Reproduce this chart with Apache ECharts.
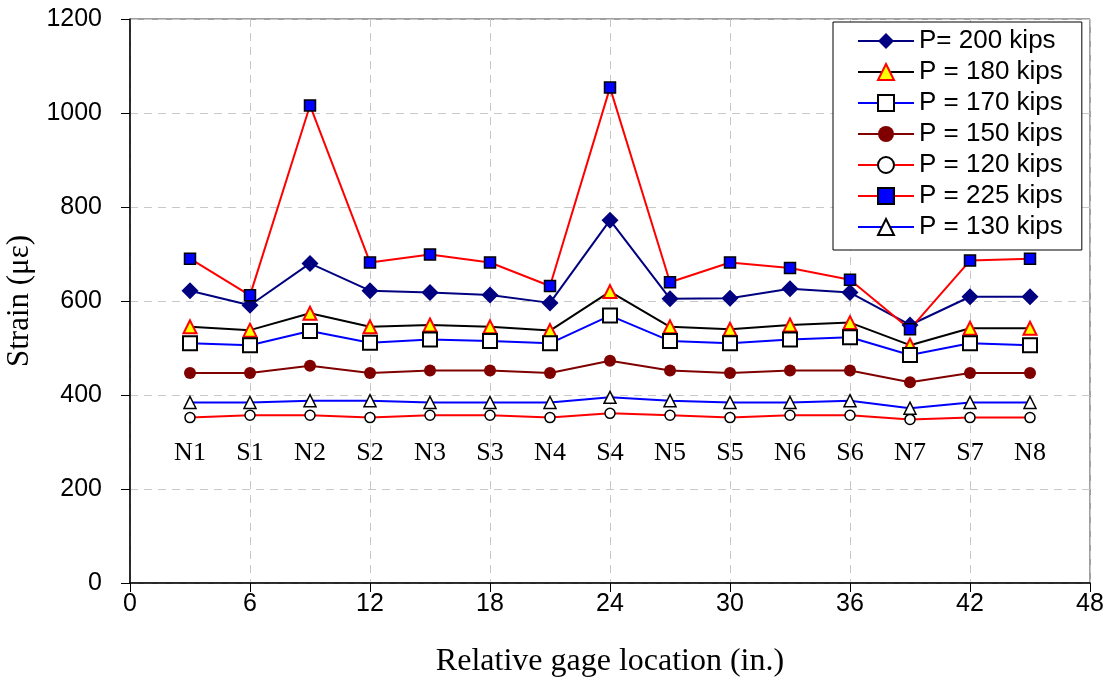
<!DOCTYPE html>
<html>
<head>
<meta charset="utf-8">
<script src="https://cdn.jsdelivr.net/npm/echarts@6/dist/echarts.min.js"></script>
<style>
html,body{margin:0;padding:0;background:#fff;}
#chart{width:1112px;height:686px;}
</style>
</head>
<body>
<div id="chart"></div>
<script>
// gage positions (in.)
const positions = [3, 6, 9, 12, 15, 18, 21, 24, 27, 30, 33, 36, 39, 42, 45];
const gageLabels = ['N1','S1','N2','S2','N3','S3','N4','S4','N5','S5','N6','S6','N7','S7','N8'];
const gageLabelLevel = 277;

const p200 = [622, 591, 680, 622, 618, 613, 596, 772, 605, 606, 626, 618, 549, 609, 609];
const p180 = [545, 538, 574, 545, 549, 545, 537, 620, 545, 540, 549, 554, 506, 542, 542];
const p170 = [510, 506, 536, 511, 518, 515, 510, 569, 515, 510, 518, 523, 485, 510, 506];
const p150 = [447, 447, 462, 447, 452, 452, 447, 473, 452, 447, 452, 452, 427, 447, 447];
const p120 = [352, 357, 357, 352, 357, 357, 352, 361, 357, 352, 357, 357, 348, 352, 352];
const p225 = [690, 612, 1016, 682, 699, 682, 632, 1054, 640, 682, 670, 645, 540, 686, 690];
const p130 = [384, 384, 388, 388, 384, 384, 384, 395, 388, 384, 384, 388, 372, 384, 384];

const seriesNames = ['P= 200 kips','P = 180 kips','P = 170 kips','P = 150 kips','P = 120 kips','P = 225 kips','P = 130 kips'];
const xTicks = {min: 0, max: 48, interval: 6};
const yTicks = {min: 0, max: 1200, interval: 200};

function pts(vals){ return positions.map((x,i)=>[x, vals[i]]); }

const SANS = '"Liberation Sans", Arial, sans-serif';
const SERIF = '"Liberation Serif", "Times New Roman", serif';

function lineSeries(name, vals, lineColor, symbol, size, fill, border, bw){
  return {
    name: name, type: 'line', data: pts(vals),
    symbol: symbol, symbolSize: size, showAllSymbol: true,
    lineStyle: {color: lineColor, width: 2},
    itemStyle: {color: fill, borderColor: border, borderWidth: bw},
    emphasis: {disabled: true}, animation: false
  };
}

const chart = echarts.init(document.getElementById('chart'), null, {renderer: 'canvas'});
chart.setOption({
  backgroundColor: '#fff',
  animation: false,
  grid: {left: 130, right: 22, top: 19, bottom: 103, outerBoundsMode: 'none', containLabel: false,
         show: true, borderColor: '#404040', borderWidth: 1, backgroundColor: 'transparent'},
  legend: {
    data: seriesNames,
    orient: 'vertical',
    left: 833, top: 22,
    backgroundColor: '#fff',
    borderColor: '#000', borderWidth: 1, borderRadius: 0,
    padding: [6, 19, 10, 24],
    itemWidth: 56, itemHeight: 20, itemGap: 5,
    textStyle: {fontFamily: SANS, fontSize: 26, color: '#000', lineHeight: 22},
    selectedMode: false
  },
  xAxis: {
    type: 'value', min: xTicks.min, max: xTicks.max, interval: xTicks.interval,
    name: 'Relative gage location (in.)', nameLocation: 'middle', nameGap: 63,
    nameTextStyle: {fontFamily: SERIF, fontSize: 32, color: '#000'},
    axisLine: {show: true, onZero: false, lineStyle: {color: '#000', width: 1.5}},
    axisTick: {show: true, length: 9, lineStyle: {color: '#000'}},
    axisLabel: {fontFamily: SANS, fontSize: 25, color: '#000', margin: 9},
    splitLine: {show: true, lineStyle: {color: '#c8c8c8', type: [8, 6], width: 1}}
  },
  yAxis: {
    type: 'value', min: yTicks.min, max: yTicks.max, interval: yTicks.interval,
    name: 'Strain (με)', nameLocation: 'middle', nameGap: 82,
    nameTextStyle: {fontFamily: SERIF, fontSize: 31, color: '#000'},
    axisLine: {show: true, lineStyle: {color: '#000', width: 1.5}},
    axisTick: {show: true, length: 9, lineStyle: {color: '#000'}},
    axisLabel: {fontFamily: SANS, fontSize: 25, color: '#000', margin: 28, formatter: v => String(v)},
    splitLine: {show: true, lineStyle: {color: '#c8c8c8', type: [8, 6], width: 1}}
  },
  series: [
    lineSeries(seriesNames[0], p200, '#000080', 'diamond', 17, '#000080', '#000080', 0),
    lineSeries(seriesNames[1], p180, '#000000', 'triangle', 13, '#ffff00', '#ff0000', 2),
    lineSeries(seriesNames[2], p170, '#0000ff', 'rect', 14, '#ffffff', '#000000', 2),
    lineSeries(seriesNames[3], p150, '#800000', 'circle', 12, '#800000', '#800000', 0),
    lineSeries(seriesNames[4], p120, '#ff0000', 'circle', 10, '#ffffff', '#000000', 1.5),
    lineSeries(seriesNames[5], p225, '#ff0000', 'rect', 11, '#0000ff', '#000000', 1.5),
    lineSeries(seriesNames[6], p130, '#0000ff', 'triangle', 12, '#ffffff', '#000000', 1.5),
    {
      name: 'gage labels', type: 'scatter', silent: true,
      data: positions.map((x,i)=>({value: [x, gageLabelLevel], name: gageLabels[i]})),
      symbolSize: 0, itemStyle: {color: '#000'},
      label: {show: true, position: 'inside', formatter: p => p.name, fontFamily: SERIF, fontSize: 26, color: '#000', textBorderWidth: 0, opacity: 1},
      animation: false
    }
  ]
});
</script>
</body>
</html>
